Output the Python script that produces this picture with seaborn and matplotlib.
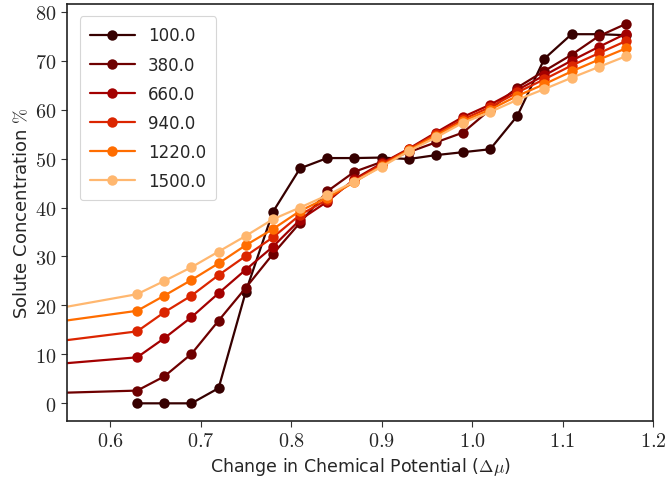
import numpy as np
import pandas as pd
import matplotlib
matplotlib.use("Agg")
import matplotlib.pyplot as plt
from matplotlib.ticker import FuncFormatter, MultipleLocator
import seaborn as sns

# Chemical potential grid (the 0.50 point lies left of the visible window)
mu = [0.63, 0.66, 0.69, 0.72, 0.75, 0.78, 0.81, 0.84, 0.87, 0.90,
      0.93, 0.96, 0.99, 1.02, 1.05, 1.08, 1.11, 1.14, 1.17]
mu_low = 0.50

temperatures = ["100.0", "380.0", "660.0", "940.0", "1220.0", "1500.0"]

conc_100 = [0.0, 0.0, 0.0, 3.1, 22.8, 39.1, 48.0, 50.1, 50.1, 50.2,
            49.9, 50.7, 51.3, 51.9, 58.7, 70.4, 75.4, 75.4, 75.2]
conc_380 = [1.9, 2.6, 5.5, 10.1, 16.9, 23.6, 30.5, 36.9, 43.3, 47.3, 49.3,
            51.3, 53.3, 55.3, 60.0, 64.5, 67.9, 71.2, 75.0, 77.5]
conc_660 = [7.4, 9.4, 13.3, 17.6, 22.5, 27.3, 32.0, 37.5, 41.2, 45.8, 49.0,
            52.0, 55.3, 58.5, 61.0, 64.0, 67.0, 70.0, 72.8, 75.5]
conc_940 = [11.7, 14.7, 18.6, 22.0, 26.2, 30.1, 33.9, 38.5, 41.6, 45.5, 48.8,
            51.9, 55.0, 58.0, 60.5, 63.5, 66.2, 69.0, 71.5, 74.0]
conc_1220 = [15.6, 18.9, 22.0, 25.2, 28.6, 32.3, 35.6, 39.3, 42.0, 45.2, 48.5,
             51.7, 54.7, 57.6, 60.0, 62.8, 65.2, 67.8, 70.2, 72.5]
conc_1500 = [18.0, 22.3, 25.0, 27.8, 31.0, 34.2, 37.6, 40.0, 42.5, 45.3, 48.3,
             51.5, 54.3, 57.3, 59.5, 62.0, 64.2, 66.5, 68.7, 70.9]

series = {
    "100.0": (mu, conc_100),
    "380.0": ([mu_low] + mu, conc_380),
    "660.0": ([mu_low] + mu, conc_660),
    "940.0": ([mu_low] + mu, conc_940),
    "1220.0": ([mu_low] + mu, conc_1220),
    "1500.0": ([mu_low] + mu, conc_1500),
}

frames = []
for name in temperatures:
    xs, ys = series[name]
    frames.append(pd.DataFrame({"mu": xs, "conc": ys, "T": name}))
df = pd.concat(frames, ignore_index=True)

sns.set_theme(style="ticks")
plt.rcParams["font.family"] = ["DejaVu Sans"]
plt.rcParams["mathtext.fontset"] = "cm"

fig = plt.figure(figsize=(6.65, 4.85), dpi=100)
ax = fig.add_axes([0.1008, 0.13, 0.8812, 0.86])

palette = sns.color_palette("gist_heat", len(temperatures))
sns.lineplot(data=df, x="mu", y="conc", hue="T", hue_order=temperatures,
             palette=palette, marker="o", markersize=7.5,
             markeredgewidth=0, linewidth=1.6, errorbar=None, ax=ax)

ax.set_xlim(0.5525, 1.2)
ax.set_ylim(-3.6, 81.6)
ax.xaxis.set_major_locator(MultipleLocator(0.1))
ax.yaxis.set_major_locator(MultipleLocator(10))
ax.xaxis.set_major_formatter(FuncFormatter(lambda v, p: f"${v:.1f}$"))
ax.yaxis.set_major_formatter(FuncFormatter(lambda v, p: f"${v:.0f}$"))
ax.tick_params(axis="both", labelsize=14.5, length=4, width=0.8,
               color="#333333", pad=3.5)

for side in ["left", "right", "top", "bottom"]:
    ax.spines[side].set_visible(True)
    ax.spines[side].set_color("#222222")
    ax.spines[side].set_linewidth(1.2)

ax.set_xlabel(r"Change in Chemical Potential ($\Delta\mu$)", fontsize=12.5,
              labelpad=3)
ax.set_ylabel(r"Solute Concentration $\%$", fontsize=13, labelpad=3)

leg = ax.legend(title=None, loc="upper left", fontsize=12, handlelength=2.7,
                labelspacing=0.67, borderpad=0.6, borderaxespad=0.75,
                frameon=True, markerscale=1.0)
leg.get_frame().set_edgecolor("#cccccc")
leg.get_frame().set_linewidth(0.8)

fig.savefig("out.png", dpi=100)
